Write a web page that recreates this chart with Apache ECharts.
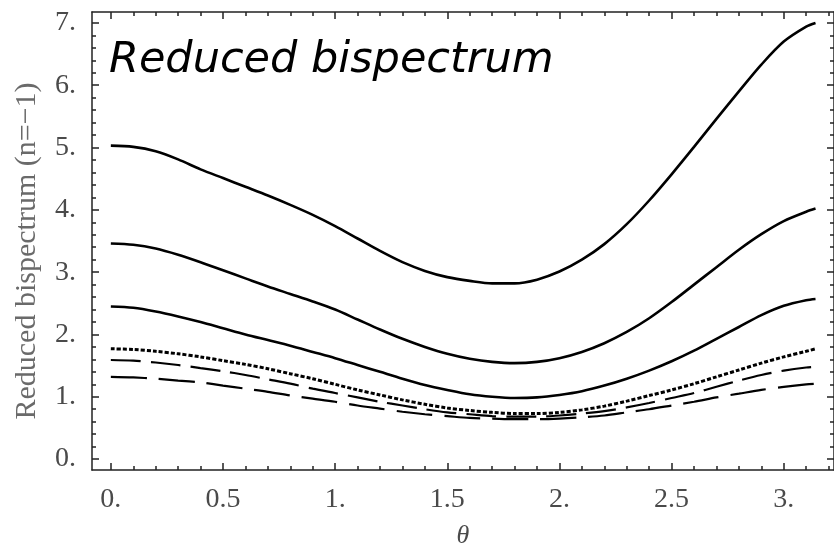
<!DOCTYPE html>
<html>
<head>
<meta charset="utf-8">
<script src="https://cdn.jsdelivr.net/npm/echarts@6/dist/echarts.min.js"></script>
<style>
  html, body { margin: 0; padding: 0; background: #fff; }
  #main { width: 834px; height: 554px; }
</style>
</head>
<body>
<div id="main"></div>
<script>
// theta samples (rad)
var theta = [0, 0.1, 0.2, 0.3, 0.4, 0.5, 0.6, 0.7, 0.8, 0.9, 1.0, 1.1, 1.2, 1.3, 1.4, 1.5, 1.6,
             1.7, 1.8, 1.9, 2.0, 2.1, 2.2, 2.3, 2.4, 2.5, 2.6, 2.7, 2.8, 2.9, 3.0, 3.1, 3.1416];

// solid curves
var solid1 = [5.03, 5.01, 4.94, 4.81, 4.65, 4.51, 4.37, 4.23, 4.08, 3.92, 3.74, 3.54, 3.34, 3.16, 3.02, 2.92, 2.86,
              2.82, 2.82, 2.88, 3.01, 3.20, 3.45, 3.77, 4.15, 4.57, 5.01, 5.46, 5.90, 6.33, 6.70, 6.94, 7.00];
var solid2 = [3.46, 3.44, 3.38, 3.28, 3.16, 3.03, 2.90, 2.77, 2.65, 2.53, 2.40, 2.24, 2.08, 1.93, 1.80, 1.69, 1.61,
              1.56, 1.54, 1.56, 1.62, 1.72, 1.86, 2.04, 2.26, 2.52, 2.80, 3.08, 3.36, 3.61, 3.82, 3.97, 4.02];
var solid3 = [2.45, 2.43, 2.37, 2.29, 2.20, 2.10, 2.00, 1.91, 1.82, 1.72, 1.62, 1.51, 1.40, 1.29, 1.19, 1.11, 1.04,
              1.00, 0.98, 0.99, 1.03, 1.09, 1.18, 1.29, 1.42, 1.57, 1.74, 1.93, 2.12, 2.31, 2.46, 2.55, 2.57];

// dashed curves
var dash1 = [1.77, 1.76, 1.73, 1.69, 1.64, 1.58, 1.52, 1.45, 1.37, 1.29, 1.20, 1.11, 1.03, 0.95, 0.88, 0.82, 0.78,
             0.75, 0.73, 0.73, 0.75, 0.79, 0.85, 0.93, 1.02, 1.11, 1.21, 1.32, 1.43, 1.54, 1.64, 1.73, 1.77];
var dash2 = [1.59, 1.58, 1.55, 1.51, 1.46, 1.41, 1.35, 1.28, 1.21, 1.13, 1.06, 0.99, 0.92, 0.86, 0.80, 0.75, 0.72,
             0.69, 0.68, 0.68, 0.70, 0.73, 0.77, 0.83, 0.90, 0.98, 1.06, 1.16, 1.26, 1.35, 1.42, 1.47, 1.48];
var dash3 = [1.32, 1.31, 1.29, 1.26, 1.23, 1.18, 1.13, 1.08, 1.02, 0.97, 0.92, 0.86, 0.81, 0.76, 0.72, 0.69, 0.66,
             0.65, 0.64, 0.64, 0.65, 0.67, 0.70, 0.75, 0.80, 0.86, 0.92, 0.99, 1.05, 1.11, 1.16, 1.20, 1.21];

// ticks
var xTicks = [0, 0.5, 1, 1.5, 2, 2.5, 3];
var xTickLabels = ['0.', '0.5', '1.', '1.5', '2.', '2.5', '3.'];
var yTicks = [0, 1, 2, 3, 4, 5, 6, 7];
var yTickLabels = ['0.', '1.', '2.', '3.', '4.', '5.', '6.', '7.'];

var xMin = -0.084, xMax = 3.224;
var yMin = -0.175, yMax = 7.175;

function minors(major, step, lo, hi) {
  var out = [];
  for (var v = Math.ceil(lo / step) * step; v <= hi + 1e-9; v += step) {
    var r = Math.round(v * 100) / 100;
    var isMajor = major.some(function (m) { return Math.abs(m - r) < 1e-6; });
    if (!isMajor) out.push(r);
  }
  return out;
}
var xMinor = minors(xTicks, 0.1, xMin, xMax);
var yMinor = minors(yTicks, 0.2, yMin, yMax);

function pairs(ys) {
  return theta.map(function (t, i) { return [t, ys[i]]; });
}

var labelFont = { color: '#4a4a4a', fontFamily: 'Liberation Serif', fontSize: 28 };
var lineStyle = { color: '#222', width: 1.5 };

function xAx(pos, values, len, showLine, showLabel) {
  return {
    type: 'value', position: pos, min: xMin, max: xMax,
    axisLine: { show: showLine, onZero: false, lineStyle: lineStyle },
    axisTick: { show: true, inside: true, length: len, customValues: values, lineStyle: lineStyle },
    axisLabel: showLabel ? Object.assign({
      show: true, margin: 16, customValues: values,
      formatter: function (v) { return xTickLabels[xTicks.indexOf(Math.round(v * 10) / 10)]; }
    }, labelFont) : { show: false },
    splitLine: { show: false }
  };
}
function yAx(pos, values, len, showLine, showLabel) {
  return {
    type: 'value', position: pos, min: yMin, max: yMax,
    axisLine: { show: showLine, onZero: false, lineStyle: lineStyle },
    axisTick: { show: true, inside: true, length: len, customValues: values, lineStyle: lineStyle },
    axisLabel: showLabel ? Object.assign({
      show: true, margin: 16, customValues: values,
      formatter: function (v) { return yTickLabels[yTicks.indexOf(Math.round(v))]; }
    }, labelFont) : { show: false },
    splitLine: { show: false }
  };
}

var xAxes = [
  xAx('bottom', xTicks, 7, true, true),
  xAx('bottom', xMinor, 4, false, false),
  xAx('top', xTicks, 7, true, false),
  xAx('top', xMinor, 4, false, false)
];
xAxes[0].name = 'θ';
xAxes[0].nameLocation = 'middle';
xAxes[0].nameGap = 53;
xAxes[0].nameTextStyle = { color: '#4a4a4a', fontFamily: 'Liberation Serif', fontStyle: 'italic', fontSize: 26 };

var yAxes = [
  yAx('left', yTicks, 7, true, true),
  yAx('left', yMinor, 4, false, false),
  yAx('right', yTicks, 7, true, false),
  yAx('right', yMinor, 4, false, false)
];
yAxes[0].name = 'Reduced bispectrum (n=−1)';
yAxes[0].nameLocation = 'middle';
yAxes[0].nameGap = 50;
yAxes[0].nameTextStyle = { color: '#6a6a6a', fontFamily: 'Liberation Serif', fontSize: 30, padding: [0, 20, 0, 0] };

function line(data, width, type) {
  return {
    type: 'line', data: pairs(data), showSymbol: false, smooth: 0.3,
    xAxisIndex: 0, yAxisIndex: 0,
    lineStyle: { color: '#000', width: width, type: type }
  };
}

var chart = echarts.init(document.getElementById('main'), null, { renderer: 'canvas' });
chart.setOption({
  animation: false,
  backgroundColor: '#fff',
  title: {
    text: 'Reduced bispectrum', left: 104, top: 34,
    textStyle: { fontFamily: 'DejaVu Sans', fontStyle: 'italic', fontWeight: 'normal', fontSize: 43, color: '#000' }
  },
  grid: { left: 92, right: -8, top: 12, bottom: 80 },
  xAxis: xAxes,
  yAxis: yAxes,
  series: [
    line(solid1, 2.6, 'solid'),
    line(solid2, 2.6, 'solid'),
    line(solid3, 2.6, 'solid'),
    line(dash1, 3, [4, 2]),
    line(dash2, 2.2, [30, 10]),
    line(dash3, 2.2, [36, 12])
  ]
});
</script>
</body>
</html>
